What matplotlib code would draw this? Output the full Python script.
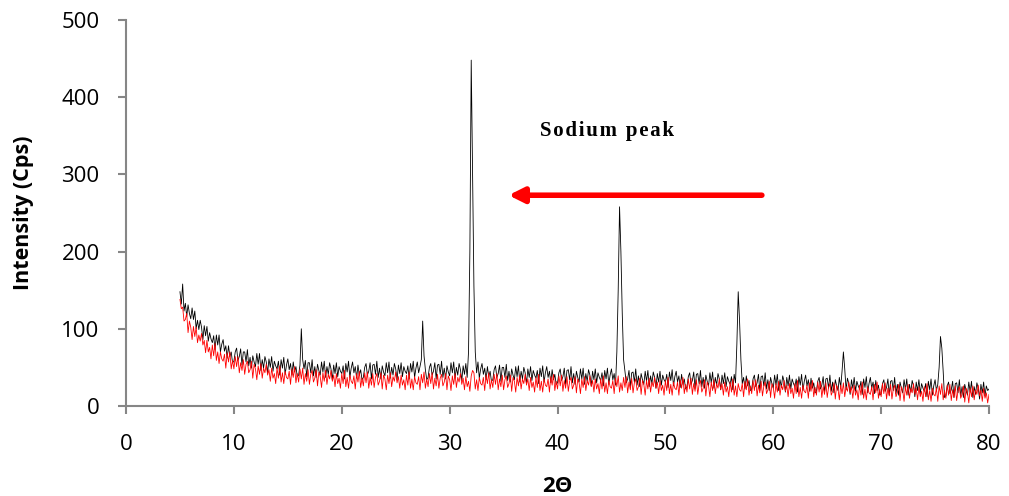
import numpy as np
import matplotlib.pyplot as plt

# XRD counts, 0.125 deg steps from 5 to 80 (one row per degree)
black = [
    148, 132, 158, 123, 133, 116, 131, 120,
    113, 127, 112, 123, 100, 111, 99, 111,
    102, 86, 104, 91, 103, 84, 95, 87,
    82, 91, 73, 92, 79, 92, 70, 80,
    86, 71, 78, 62, 78, 64, 70, 56,
    58, 70, 75, 59, 64, 74, 53, 70,
    70, 57, 73, 52, 63, 49, 65, 57,
    51, 68, 54, 68, 46, 60, 49, 64,
    57, 43, 61, 50, 64, 45, 58, 52,
    48, 58, 40, 60, 49, 63, 41, 53,
    61, 47, 55, 40, 57, 44, 51, 38,
    40, 53, 100, 60, 48, 59, 38, 56,
    56, 43, 60, 39, 51, 37, 54, 46,
    40, 57, 44, 58, 37, 51, 41, 56,
    48, 34, 53, 42, 56, 38, 51, 45,
    42, 52, 35, 55, 44, 58, 37, 49,
    57, 43, 51, 36, 53, 40, 47, 34,
    37, 50, 55, 40, 45, 56, 35, 53,
    54, 41, 58, 37, 49, 35, 52, 44,
    39, 56, 43, 57, 36, 50, 40, 55,
    48, 34, 53, 42, 56, 38, 51, 45,
    42, 52, 35, 55, 44, 58, 37, 49,
    57, 43, 51, 60, 110, 65, 47, 34,
    37, 50, 55, 40, 45, 56, 35, 53,
    54, 41, 58, 37, 49, 35, 52, 44,
    39, 56, 43, 57, 36, 50, 40, 55,
    47, 33, 52, 41, 55, 37, 70, 200,
    448, 300, 155, 70, 43, 57, 36, 48,
    55, 41, 49, 34, 51, 38, 45, 32,
    34, 47, 52, 37, 42, 53, 32, 50,
    50, 37, 54, 33, 45, 31, 48, 40,
    34, 51, 38, 52, 31, 45, 35, 50,
    43, 29, 48, 37, 51, 33, 46, 40,
    36, 46, 29, 49, 38, 52, 31, 43,
    51, 37, 45, 30, 47, 34, 41, 28,
    30, 43, 48, 33, 38, 49, 28, 46,
    47, 34, 51, 30, 42, 28, 45, 37,
    31, 48, 35, 49, 28, 42, 32, 47,
    40, 26, 45, 34, 48, 30, 43, 37,
    33, 43, 26, 46, 35, 49, 28, 40,
    48, 34, 42, 27, 70, 150, 258, 200,
    120, 60, 45, 30, 35, 46, 25, 43,
    44, 31, 48, 27, 39, 25, 42, 34,
    28, 45, 32, 46, 25, 39, 29, 44,
    37, 23, 42, 31, 45, 27, 40, 34,
    31, 41, 24, 44, 33, 47, 26, 38,
    45, 31, 39, 24, 41, 28, 35, 22,
    25, 38, 43, 28, 33, 44, 23, 41,
    42, 29, 46, 25, 37, 23, 40, 32,
    26, 43, 30, 44, 23, 37, 27, 42,
    35, 21, 40, 29, 43, 25, 38, 32,
    28, 38, 21, 41, 30, 80, 148, 110,
    60, 29, 37, 22, 39, 26, 33, 20,
    22, 35, 40, 25, 30, 41, 20, 38,
    39, 26, 43, 22, 34, 20, 37, 29,
    23, 40, 27, 41, 20, 34, 24, 39,
    32, 18, 37, 26, 40, 22, 35, 29,
    25, 35, 18, 38, 27, 41, 20, 32,
    40, 26, 34, 19, 36, 23, 30, 17,
    19, 32, 37, 22, 27, 38, 17, 35,
    36, 23, 40, 19, 31, 17, 34, 26,
    20, 37, 24, 45, 70, 48, 21, 36,
    29, 15, 34, 23, 37, 19, 32, 26,
    22, 32, 15, 35, 24, 38, 17, 29,
    37, 23, 31, 16, 33, 20, 27, 14,
    16, 29, 34, 19, 24, 35, 14, 32,
    33, 20, 37, 16, 28, 14, 31, 23,
    17, 34, 21, 35, 14, 28, 18, 33,
    26, 12, 31, 20, 34, 16, 29, 23,
    19, 29, 12, 32, 21, 35, 14, 26,
    34, 20, 28, 50, 90, 75, 45, 11,
    13, 26, 31, 16, 21, 32, 11, 29,
    30, 17, 34, 13, 25, 11, 28, 20,
    14, 31, 18, 32, 11, 25, 15, 30,
    23, 9, 28, 17, 31, 13, 26, 20,
    22,
]

red = [
    138, 126, 128, 110, 112, 120, 95, 110,
    102, 86, 103, 90, 102, 82, 92, 84,
    94, 79, 85, 69, 85, 70, 76, 61,
    79, 65, 81, 59, 70, 55, 70, 61,
    58, 67, 49, 69, 57, 70, 48, 59,
    48, 64, 51, 64, 43, 56, 46, 60,
    41, 54, 58, 43, 47, 58, 36, 54,
    48, 34, 52, 41, 55, 36, 49, 43,
    54, 40, 47, 32, 49, 36, 42, 29,
    49, 36, 52, 31, 43, 29, 45, 37,
    35, 45, 28, 48, 37, 51, 30, 42,
    31, 48, 35, 49, 28, 42, 32, 47,
    28, 41, 46, 31, 36, 47, 26, 44,
    38, 24, 43, 32, 46, 28, 41, 35,
    46, 32, 40, 25, 42, 29, 36, 23,
    42, 29, 46, 25, 37, 23, 40, 32,
    29, 39, 22, 42, 31, 45, 24, 36,
    26, 43, 30, 44, 23, 37, 27, 42,
    24, 37, 42, 27, 32, 43, 22, 40,
    35, 21, 40, 29, 43, 25, 38, 32,
    44, 30, 38, 23, 40, 27, 34, 21,
    40, 27, 44, 23, 35, 21, 38, 30,
    28, 38, 21, 41, 30, 44, 23, 35,
    25, 42, 29, 43, 22, 36, 26, 41,
    23, 36, 41, 26, 31, 42, 21, 39,
    34, 20, 39, 28, 42, 24, 37, 31,
    42, 28, 36, 21, 38, 25, 32, 19,
    39, 46, 43, 22, 34, 20, 37, 29,
    27, 37, 20, 40, 29, 43, 22, 34,
    24, 41, 28, 42, 21, 35, 25, 40,
    21, 34, 39, 24, 29, 40, 19, 37,
    32, 18, 37, 26, 40, 22, 35, 29,
    41, 27, 35, 20, 37, 24, 31, 18,
    37, 24, 41, 20, 32, 18, 35, 27,
    25, 35, 18, 38, 27, 41, 20, 32,
    22, 39, 26, 40, 19, 33, 23, 38,
    19, 32, 37, 22, 27, 38, 17, 35,
    30, 16, 35, 24, 38, 20, 33, 27,
    39, 25, 33, 18, 35, 22, 29, 16,
    35, 22, 39, 18, 30, 16, 33, 25,
    23, 33, 16, 36, 25, 39, 18, 30,
    20, 37, 24, 38, 17, 31, 21, 36,
    17, 30, 35, 20, 25, 36, 15, 33,
    28, 14, 33, 22, 36, 18, 31, 25,
    37, 23, 31, 16, 33, 20, 27, 14,
    33, 20, 37, 16, 28, 14, 31, 23,
    21, 31, 14, 34, 23, 37, 16, 28,
    18, 35, 22, 36, 15, 29, 19, 34,
    15, 28, 33, 18, 23, 34, 13, 31,
    26, 12, 31, 20, 34, 16, 29, 23,
    35, 21, 29, 14, 31, 18, 25, 12,
    31, 18, 35, 14, 26, 12, 29, 21,
    19, 29, 12, 32, 21, 35, 14, 26,
    16, 33, 20, 34, 13, 27, 17, 32,
    13, 26, 31, 16, 21, 32, 11, 29,
    24, 10, 29, 18, 32, 14, 27, 21,
    33, 19, 27, 12, 29, 16, 23, 10,
    29, 16, 33, 12, 24, 10, 27, 19,
    17, 27, 10, 30, 19, 33, 12, 24,
    14, 31, 18, 32, 11, 25, 15, 30,
    11, 24, 29, 14, 19, 30, 9, 27,
    22, 8, 27, 16, 30, 12, 25, 19,
    31, 17, 25, 10, 27, 14, 21, 8,
    27, 14, 31, 10, 22, 8, 25, 17,
    15, 25, 8, 28, 17, 31, 10, 22,
    12, 29, 16, 30, 9, 23, 13, 28,
    9, 22, 27, 12, 17, 28, 7, 25,
    20, 6, 25, 14, 28, 10, 23, 17,
    29, 15, 23, 8, 25, 12, 19, 6,
    25, 12, 29, 8, 20, 6, 23, 15,
    13, 23, 6, 26, 15, 29, 8, 20,
    10, 27, 14, 28, 7, 21, 11, 26,
    7, 20, 25, 10, 15, 26, 5, 23,
    18, 4, 23, 12, 26, 8, 21, 15,
    27, 13, 21, 6, 23, 10, 17, 4,
    15,
]

x_black = np.linspace(5, 80, len(black))
x_red = np.linspace(5, 80, len(red))

x_ticks = [0, 10, 20, 30, 40, 50, 60, 70, 80]
y_ticks = [0, 100, 200, 300, 400, 500]

fig = plt.figure(figsize=(10.09, 4.96), dpi=100)
ax = fig.add_axes([0.1249, 0.1815, 0.8553, 0.7782])

ax.plot(x_black, black, color='black', lw=0.6)
ax.plot(x_red, red, color='red', lw=0.6)

ax.set_xlim(0, 80)
ax.set_ylim(0, 500)
ax.set_xticks(x_ticks)
ax.set_yticks(y_ticks)

grey = '#868686'
for side in ['top', 'right']:
    ax.spines[side].set_visible(False)
for side in ['left', 'bottom']:
    ax.spines[side].set_color(grey)
    ax.spines[side].set_linewidth(1.5)
ax.tick_params(direction='out', length=6, width=1.5, color=grey, labelsize=16)
ax.tick_params(axis='y', pad=13)
ax.tick_params(axis='x', pad=14)
for lab in ax.get_xticklabels() + ax.get_yticklabels():
    lab.set_family('Open Sans')

ax.set_ylabel('Intensity (Cps)', fontsize=15.5, fontweight='bold',
              family='Open Sans', labelpad=20)
ax.set_xlabel('2\u0398', fontsize=16, fontweight='bold',
              family='Open Sans', labelpad=15)

ax.text(44.6, 356, '\u200a'.join('Sodium peak'), ha='center', va='center',
        fontsize=15, fontweight='bold', family=['Liberation Serif', 'DejaVu Serif'])
ax.annotate('', xy=(35.2, 273), xytext=(59.2, 273),
            arrowprops=dict(arrowstyle='-|>,head_length=0.9,head_width=0.45',
                            color='red', lw=4))

fig.savefig('out.png', dpi=100)
